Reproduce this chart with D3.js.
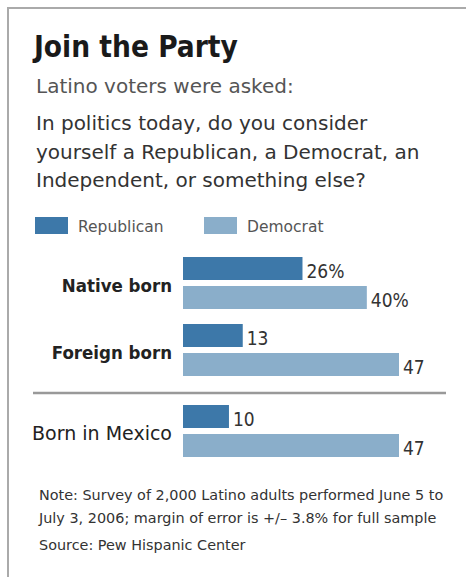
<!DOCTYPE html>
<html>
<head>
<meta charset="utf-8">
<script src="https://d3js.org/d3.v7.min.js"></script>
<style>
  body { margin: 0; background: #fff; }
  text { font-family: "DejaVu Sans", sans-serif; }
  .cond { font-family: "DejaVu Sans Condensed", "DejaVu Sans", sans-serif; }
</style>
</head>
<body>
<div id="chart"></div>
<script>
// data
var groups = ["Native born", "Foreign born", "Born in Mexico"];
var republican = [26, 13, 10];
var democrat = [40, 47, 47];
var repLabels = ["26%", "13", "10"];
var demLabels = ["40%", "47", "47"];
var seriesNames = ["Republican", "Democrat"];

var W = 466, H = 577;
var colors = { Republican: "#3d78a9", Democrat: "#8aaeca" };

var svg = d3.select("#chart").append("svg")
    .attr("width", W).attr("height", H);

// frame (top + left only)
svg.append("path")
    .attr("d", "M8,577 L8,8 L466,8")
    .attr("fill", "none").attr("stroke", "#aaa").attr("stroke-width", 2);

// titles
svg.append("text").attr("class", "cond").attr("x", 34).attr("y", 57)
    .style("font-size", "29.5px").style("font-weight", "bold").attr("fill", "#1a1a1a")
    .text("Join the Party");
svg.append("text").attr("x", 36).attr("y", 93)
    .style("font-size", "20px").attr("fill", "#555")
    .text("Latino voters were asked:");
var q = ["In politics today, do you consider",
         "yourself a Republican, a Democrat, an",
         "Independent, or something else?"];
svg.selectAll(".q").data(q).enter().append("text")
    .attr("x", 36).attr("y", function (d, i) { return 130 + i * 28.5; })
    .style("font-size", "20px").attr("fill", "#333")
    .text(function (d) { return d; });

// legend
var leg = svg.selectAll(".leg").data(seriesNames).enter().append("g")
    .attr("transform", function (d, i) { return "translate(" + (35 + i * 169) + ",217)"; });
leg.append("rect").attr("width", 33).attr("height", 17)
    .attr("fill", function (d) { return colors[d]; });
leg.append("text").attr("x", 43).attr("y", 15)
    .style("font-size", "15.5px").attr("fill", "#555")
    .text(function (d) { return d; });

// scales
var x = d3.scaleLinear().domain([0, 47]).range([183, 399]);
var groupY = [257, 324, 405];
var barH = 23, gap = 6;

var g = svg.selectAll(".grp").data(groups).enter().append("g")
    .attr("transform", function (d, i) { return "translate(0," + groupY[i] + ")"; });

g.append("rect").attr("x", x(0)).attr("y", 0)
    .attr("width", function (d, i) { return x(republican[i]) - x(0); })
    .attr("height", barH).attr("fill", colors.Republican);
g.append("rect").attr("x", x(0)).attr("y", barH + gap)
    .attr("width", function (d, i) { return x(democrat[i]) - x(0); })
    .attr("height", barH).attr("fill", colors.Democrat);

g.append("text").attr("class", "cond").attr("x", function (d, i) { return x(republican[i]) + 4; })
    .attr("y", barH - 2).style("font-size", "19px").attr("fill", "#333")
    .text(function (d, i) { return repLabels[i]; });
g.append("text").attr("class", "cond").attr("x", function (d, i) { return x(democrat[i]) + 4; })
    .attr("y", 2 * barH + gap - 2).style("font-size", "19px").attr("fill", "#333")
    .text(function (d, i) { return demLabels[i]; });

g.append("text").attr("x", 172).attr("y", 35).attr("text-anchor", "end")
    .attr("class", function (d, i) { return i < 2 ? "cond" : null; })
    .style("font-size", function (d, i) { return i < 2 ? "18.5px" : "19px"; })
    .attr("fill", "#222")
    .style("font-weight", function (d, i) { return i < 2 ? "bold" : "normal"; })
    .text(function (d) { return d; });

// separator
svg.append("line").attr("x1", 33).attr("x2", 446).attr("y1", 393).attr("y2", 393)
    .attr("stroke", "#999").attr("stroke-width", 2.5);

// notes
var notes = ["Note: Survey of 2,000 Latino adults performed June 5 to",
             "July 3, 2006; margin of error is +/\u2013 3.8% for full sample"];
svg.selectAll(".note").data(notes).enter().append("text")
    .attr("x", 39).attr("y", function (d, i) { return 500 + i * 23; })
    .style("font-size", "14.4px").attr("fill", "#333")
    .text(function (d) { return d; });
svg.append("text").attr("x", 39).attr("y", 550)
    .style("font-size", "14.4px").attr("fill", "#333")
    .text("Source: Pew Hispanic Center");
</script>
</body>
</html>
